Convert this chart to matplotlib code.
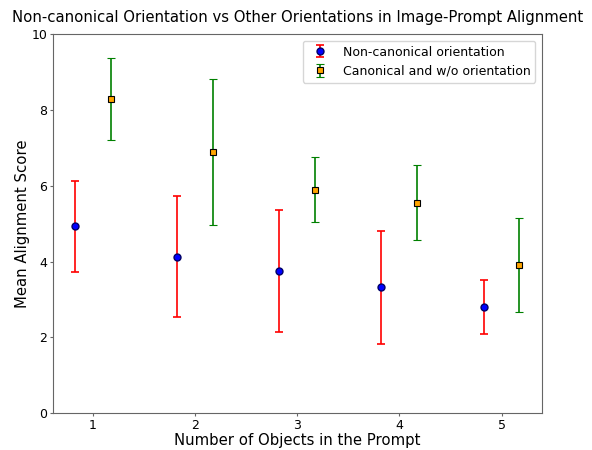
import matplotlib
matplotlib.use("Agg")
import matplotlib.pyplot as plt
import numpy as np


# values
num_objects = [1, 2, 3, 4, 5]
noncanonical_mean = [4.94, 4.13, 3.75, 3.32, 2.80]
noncanonical_err = [1.20, 1.60, 1.61, 1.50, 0.71]
canonical_mean = [8.30, 6.89, 5.90, 5.56, 3.92]
canonical_err = [1.08, 1.92, 0.86, 1.00, 1.24]

OFFSET = 0.175


def main():
    x = np.array(num_objects, dtype=float)
    fig = plt.figure(figsize=(5.92, 4.5), dpi=100)
    ax = fig.add_axes([0.089, 0.0816, 0.826, 0.8422])

    ax.errorbar(x - OFFSET, noncanonical_mean, yerr=noncanonical_err, fmt="o",
                color="blue", ecolor="red", markeredgecolor="#000066",
                markersize=5, capsize=3, elinewidth=1.2, capthick=1.2,
                label="Non-canonical orientation")
    ax.errorbar(x + OFFSET, canonical_mean, yerr=canonical_err, fmt="s",
                color="orange", ecolor="green", markeredgecolor="black",
                markeredgewidth=0.8, markersize=5, capsize=3, elinewidth=1.2,
                capthick=1.2, label="Canonical and w/o orientation")

    ax.set_ylim(0, 10)
    ax.set_xticks(num_objects)
    ax.set_xlabel("Number of Objects in the Prompt", fontsize=10.7, labelpad=0.5)
    ax.set_ylabel("Mean Alignment Score", fontsize=10.7, labelpad=1)
    ax.set_title("Non-canonical Orientation vs Other Orientations in Image-Prompt Alignment",
                 fontsize=10.75, pad=9)
    ax.tick_params(labelsize=9, color="#666666", length=2, pad=2)
    for spine in ax.spines.values():
        spine.set_color("#666666")
        spine.set_linewidth(0.8)
    ax.legend(loc="upper right", fontsize=9, handletextpad=0.8)

    fig.savefig("out.png", dpi=100)
    plt.close(fig)


if __name__ == "__main__":
    main()
